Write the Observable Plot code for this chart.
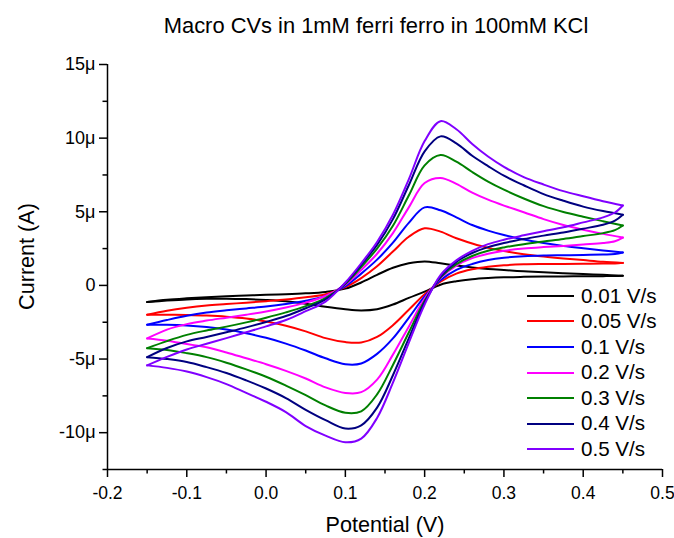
<!DOCTYPE html>
<html>
<head>
<meta charset="utf-8">
<script src="https://cdn.jsdelivr.net/npm/d3@7"></script>
<script src="https://cdn.jsdelivr.net/npm/@observablehq/plot@0.6"></script>
<style>
  html, body { margin: 0; padding: 0; background: white; }
  #wrap { position: relative; width: 674px; height: 538px; font-family: "Liberation Sans", Arial, sans-serif; }
  #legend { position: absolute; left: 527px; top: 283px; }
  .row { display: flex; align-items: center; height: 25.6px; }
  .swatch { width: 47px; height: 2px; margin-right: 7px; }
  .lab { font-size: 20.6px; color: #000; white-space: nowrap; line-height: 1; }
</style>
</head>
<body>
<div id="wrap"><div id="legend"></div></div>
<script>
// ---- data (potential in V, current in µA) ----
const scanRates = ["0.01 V/s", "0.05 V/s", "0.1 V/s", "0.2 V/s", "0.3 V/s", "0.4 V/s", "0.5 V/s"];
const seriesColors = ["#000000", "#ff0000", "#0000ff", "#ff00ff", "#008000", "#000080", "#8000ff"];

const potentialForward = [-0.15, -0.125, -0.1, -0.075, -0.05, -0.025, 0, 0.025, 0.05, 0.075, 0.1, 0.12, 0.14, 0.16, 0.18, 0.2, 0.22, 0.24, 0.26, 0.28, 0.3, 0.325, 0.35, 0.375, 0.4, 0.425, 0.45];
const potentialReverse = [0.45, 0.44, 0.425, 0.4, 0.375, 0.35, 0.325, 0.3, 0.28, 0.26, 0.24, 0.22, 0.2, 0.18, 0.16, 0.14, 0.12, 0.1, 0.075, 0.05, 0.025, 0, -0.025, -0.05, -0.075, -0.1, -0.125, -0.15];

const fwd001 = [-1.13, -0.98, -0.88, -0.8, -0.74, -0.69, -0.64, -0.6, -0.54, -0.44, -0.22, 0.2, 0.72, 1.2, 1.5, 1.63, 1.5, 1.35, 1.22, 1.12, 1.04, 0.96, 0.89, 0.83, 0.77, 0.72, 0.66];
const fwd005 = [-1.99, -1.72, -1.52, -1.37, -1.27, -1.17, -1.07, -0.96, -0.81, -0.6, -0.12, 0.5, 1.3, 2.3, 3.3, 3.88, 3.65, 3.2, 2.85, 2.55, 2.33, 2.12, 1.96, 1.83, 1.72, 1.61, 1.53];
const fwd010 = [-2.67, -2.35, -2.06, -1.84, -1.69, -1.56, -1.43, -1.26, -1.04, -0.72, -0.05, 0.8, 1.75, 2.9, 4.25, 5.3, 5.1, 4.62, 4.1, 3.72, 3.42, 3.12, 2.88, 2.68, 2.52, 2.37, 2.24];
const fwd020 = [-3.6, -3.0, -2.63, -2.39, -2.19, -1.99, -1.77, -1.5, -1.17, -0.72, 0.05, 1.05, 2.15, 3.55, 5.3, 6.95, 7.3, 6.9, 6.3, 5.82, 5.42, 4.97, 4.5, 4.1, 3.78, 3.5, 3.25];
const fwd030 = [-4.26, -3.78, -3.36, -3.06, -2.8, -2.51, -2.19, -1.83, -1.41, -0.86, 0.1, 1.25, 2.5, 4.05, 6.1, 8.15, 8.85, 8.4, 7.7, 7.05, 6.5, 5.9, 5.38, 4.98, 4.66, 4.36, 4.07];
const fwd040 = [-4.87, -4.25, -3.8, -3.5, -3.18, -2.85, -2.48, -2.08, -1.55, -0.95, 0.15, 1.4, 2.75, 4.5, 6.8, 9.1, 10.12, 9.65, 8.8, 8.1, 7.45, 6.8, 6.2, 5.75, 5.35, 5.05, 4.8];
const fwd050 = [-5.43, -4.85, -4.35, -3.96, -3.58, -3.18, -2.78, -2.35, -1.75, -1.1, 0.2, 1.5, 2.95, 4.8, 7.2, 9.8, 11.15, 10.6, 9.6, 8.75, 8.05, 7.35, 6.85, 6.4, 6.05, 5.72, 5.43];

const rev001 = [0.66, 0.64, 0.63, 0.62, 0.61, 0.6, 0.58, 0.55, 0.5, 0.42, 0.28, 0.05, -0.42, -0.85, -1.3, -1.62, -1.7, -1.62, -1.45, -1.24, -1.08, -0.99, -0.93, -0.9, -0.91, -0.95, -1.03, -1.13];
const rev005 = [1.53, 1.49, 1.48, 1.47, 1.46, 1.45, 1.43, 1.37, 1.27, 1.1, 0.8, 0.25, -0.6, -1.65, -2.7, -3.5, -3.88, -3.85, -3.58, -3.12, -2.74, -2.45, -2.24, -2.12, -2.05, -2.01, -1.99, -1.99];
const rev010 = [2.24, 2.13, 2.1, 2.07, 2.05, 2.03, 1.98, 1.88, 1.72, 1.45, 1.05, 0.35, -0.75, -2.2, -3.6, -4.65, -5.3, -5.35, -4.95, -4.42, -3.95, -3.56, -3.25, -3.0, -2.83, -2.72, -2.67, -2.67];
const rev020 = [3.25, 3.0, 2.88, 2.78, 2.68, 2.6, 2.5, 2.35, 2.15, 1.85, 1.35, 0.5, -0.9, -2.8, -4.7, -6.4, -7.25, -7.3, -6.92, -6.32, -5.8, -5.35, -4.95, -4.55, -4.2, -3.98, -3.75, -3.6];
const rev030 = [4.07, 3.75, 3.55, 3.35, 3.15, 2.98, 2.8, 2.58, 2.35, 2.0, 1.45, 0.55, -1.05, -3.2, -5.4, -7.4, -8.55, -8.65, -8.15, -7.45, -6.8, -6.2, -5.7, -5.25, -4.87, -4.6, -4.38, -4.26];
const rev040 = [4.8, 4.4, 4.12, 3.85, 3.6, 3.38, 3.15, 2.88, 2.6, 2.2, 1.6, 0.6, -1.15, -3.6, -6.1, -8.3, -9.5, -9.72, -9.15, -8.45, -7.65, -7.0, -6.45, -5.95, -5.55, -5.2, -5.0, -4.87];
const rev050 = [5.43, 4.95, 4.62, 4.28, 3.95, 3.68, 3.4, 3.1, 2.8, 2.35, 1.7, 0.7, -1.3, -3.9, -6.6, -9.0, -10.4, -10.65, -10.2, -9.55, -8.6, -7.9, -7.3, -6.7, -6.23, -5.85, -5.6, -5.43];

const xTicks = [-0.2, -0.1, 0, 0.1, 0.2, 0.3, 0.4, 0.5];
const xTickLabels = ["-0.2", "-0.1", "0.0", "0.1", "0.2", "0.3", "0.4", "0.5"];
const xMinorTicks = [-0.15, -0.05, 0.05, 0.15, 0.25, 0.35, 0.45];
const yTicks = [-10, -5, 0, 5, 10, 15];
const yTickLabels = ["-10\u03bc", "-5\u03bc", "0", "5\u03bc", "10\u03bc", "15\u03bc"];
const yMinorTicks = [-12.5, -7.5, -2.5, 2.5, 7.5, 12.5];

const chartTitle = "Macro CVs in 1mM ferri ferro in 100mM KCl";
const xTitle = "Potential (V)";
const yTitle = "Current (A)";

// ---- build table ----
const forwardCurrents = [fwd001, fwd005, fwd010, fwd020, fwd030, fwd040, fwd050];
const reverseCurrents = [rev001, rev005, rev010, rev020, rev030, rev040, rev050];
const rows = [];
scanRates.forEach((rate, s) => {
  potentialForward.forEach((E, i) => rows.push({E, I: forwardCurrents[s][i], rate, branch: rate + " fwd"}));
  potentialReverse.forEach((E, i) => rows.push({E, I: reverseCurrents[s][i], rate, branch: rate + " rev"}));
});

const font = "'Liberation Sans', Arial, sans-serif";
const chart = Plot.plot({
  width: 674,
  height: 538,
  marginLeft: 107,
  marginRight: 12,
  marginTop: 64,
  marginBottom: 69,
  style: {fontFamily: font, background: "white", color: "black", overflow: "visible"},
  x: {domain: [-0.2, 0.5]},
  y: {domain: [-12.5, 15]},
  color: {domain: scanRates, range: seriesColors},
  marks: [
    Plot.line(rows, {x: "E", y: "I", z: "branch", stroke: "rate", strokeWidth: 2, curve: "catmull-rom"}),
    Plot.ruleX([-0.2], {strokeWidth: 1.5}),
    Plot.ruleY([-12.5], {strokeWidth: 1.5}),
    Plot.axisX(xTicks, {anchor: "bottom", tickSize: 8, tickPadding: 9, strokeWidth: 1.5, fontSize: 17.5,
      tickFormat: d => xTickLabels[xTicks.indexOf(d)], label: null}),
    Plot.axisX(xMinorTicks, {anchor: "bottom", tickSize: 4.5, strokeWidth: 1.5, tickFormat: () => "", label: null}),
    Plot.axisY(yTicks, {anchor: "left", tickSize: 8, tickPadding: 4, strokeWidth: 1.5, fontSize: 18,
      tickFormat: d => yTickLabels[yTicks.indexOf(d)], label: null}),
    Plot.axisY(yMinorTicks, {anchor: "left", tickSize: 4.5, strokeWidth: 1.5, tickFormat: () => "", label: null}),
    Plot.text([xTitle], {text: d => d, frameAnchor: "bottom", textAnchor: "middle", lineAnchor: "bottom", dy: 62, fontSize: 21.6}),
    Plot.text([yTitle], {text: d => d, frameAnchor: "left", textAnchor: "middle", lineAnchor: "bottom", rotate: -90, dx: -74, dy: -10.5, fontSize: 21.6}),
    Plot.text([chartTitle], {text: d => d, frameAnchor: "top", textAnchor: "middle", lineAnchor: "bottom", dx: -9, dy: -32, fontSize: 21.9})
  ]
});
document.getElementById("wrap").prepend(chart);

// ---- legend ----
const legend = document.getElementById("legend");
scanRates.forEach((rate, i) => {
  const row = document.createElement("div");
  row.className = "row";
  const sw = document.createElement("div");
  sw.className = "swatch";
  sw.style.background = seriesColors[i];
  const lab = document.createElement("span");
  lab.className = "lab";
  lab.textContent = rate;
  row.append(sw, lab);
  legend.append(row);
});
</script>
</body>
</html>
